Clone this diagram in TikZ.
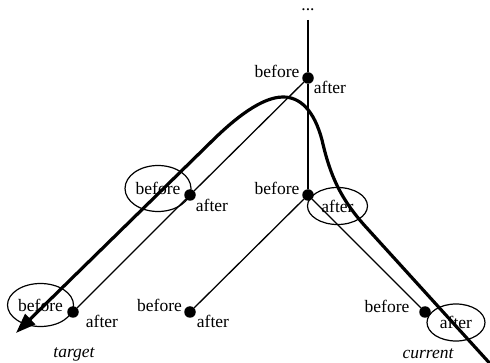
\documentclass[tikz,border=0pt]{standalone}
\usepackage{fontspec}
\setmainfont{Liberation Serif}
\usetikzlibrary{shapes.geometric,arrows.meta}
\begin{document}
\begin{tikzpicture}[x=1pt,y=-1pt,
  lab/.style={inner sep=0pt,font=\fontsize{17.5}{20}\selectfont},
  circled/.style={lab,draw,ellipse,line width=1.2pt},
  dot/.style={circle,fill=black,minimum size=11.5pt,inner sep=0pt},
  edge/.style={line width=1.3pt},
  thickpath/.style={line width=3.2pt}]
\useasboundingbox (0,0) rectangle (490,363);
% tree nodes
\node[lab,anchor=base,text height=2pt] (dots) at (308,11) {...};
\coordinate (top) at (308,20);
\node[dot] (A) at (308,78) {};
\node[dot] (B) at (190,195) {};
\node[dot] (C) at (308,195) {};
\node[dot] (D) at (73,312) {};
\node[dot] (E) at (190,312) {};
\node[dot] (F) at (425,312) {};
% edges
\draw[edge] (top) -- (A);
\draw[edge] (A) -- (C);
\draw[edge] (A) -- (B);
\draw[edge] (B) -- (D);
\draw[edge] (C) -- (E);
\draw[edge] (C) -- (F);
% labels
\node[lab] (Abef) at (277,71) {before};
\node[lab] (Aaft) at (330,87) {after};
\node[circled,minimum width=66pt,minimum height=46pt] (Bbef) at (158,188.5) {before};
\node[lab] (Baft) at (212,205) {after};
\node[lab] (Cbef) at (277,188) {before};
\node[circled,minimum width=60pt,minimum height=37pt] (Caft) at (337.5,206) {after};
\node[circled,minimum width=66pt,minimum height=43pt] (Dbef) at (40.5,305) {before};
\node[lab] (Daft) at (102,321) {after};
\node[lab] (Ebef) at (159.5,305) {before};
\node[lab] (Eaft) at (213,321) {after};
\node[lab] (Fbef) at (387,306) {before};
\node[circled,minimum width=58pt,minimum height=37pt] (Faft) at (456,322.5) {after};
\node[lab,anchor=base,font=\fontsize{17.5}{20}\selectfont\itshape] (target) at (74,357) {target};
\node[lab,anchor=base,font=\fontsize{17.5}{20}\selectfont\itshape] (current) at (428,359) {current};
% thick path from current to target
\coordinate (pstart) at (494,368);
\coordinate (ptip) at (16,333);
\draw[thickpath,-{Triangle[length=20pt,width=14pt]}] (pstart) -- (365,226)
  .. controls (340,198) and (330,175) .. (322,140)
  .. controls (314,110) and (300,97) .. (283,97)
  .. controls (262,97) and (235,118) .. (210,143)
  -- (ptip);
\end{tikzpicture}
\end{document}
